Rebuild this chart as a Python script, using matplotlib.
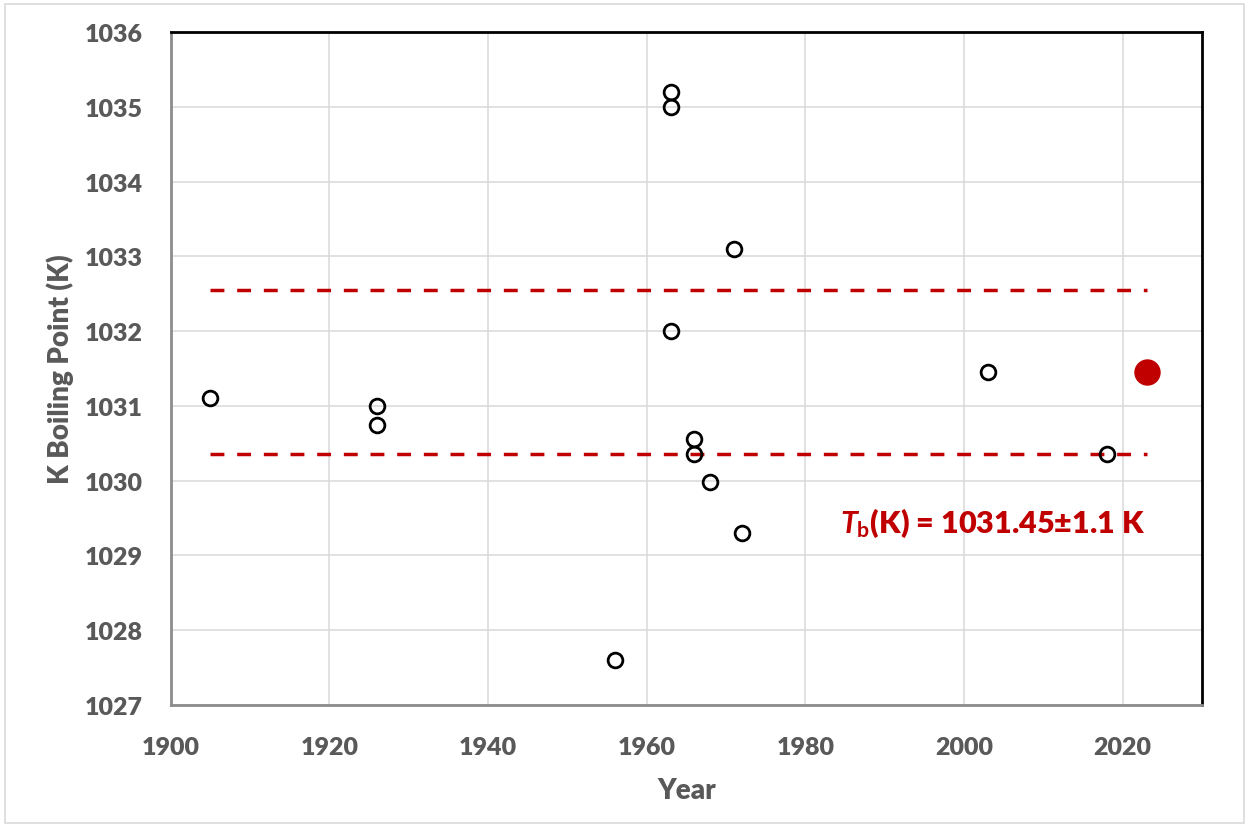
import matplotlib
matplotlib.use('Agg')
import matplotlib.pyplot as plt
from matplotlib.patches import Rectangle

# literature values of the K boiling point
years = [1905, 1926, 1926, 1956, 1963, 1963, 1963, 1966, 1966, 1968, 1971, 1972, 2003, 2018]
tb_vals = [1031.1, 1031.0, 1030.74, 1027.6, 1035.2, 1035.0, 1032.0, 1030.56, 1030.35,
           1029.98, 1033.1, 1029.3, 1031.45, 1030.35]

# recommended value and its band
rec_year = 2023
rec_tb = 1031.45
rec_err = 1.1
band_years = [1905, 2023]

xticks = [1900, 1920, 1940, 1960, 1980, 2000, 2020]
yticks = [1027, 1028, 1029, 1030, 1031, 1032, 1033, 1034, 1035, 1036]

gray = '#595959'
red = '#C00000'

plt.rcParams['font.family'] = ['Lato', 'DejaVu Sans']
plt.rcParams['mathtext.fontset'] = 'custom'
plt.rcParams['mathtext.it'] = 'Lato:bold:italic'
plt.rcParams['mathtext.rm'] = 'Lato:bold'
plt.rcParams['mathtext.bf'] = 'Lato:bold'
plt.rcParams['lines.scale_dashes'] = False

fig = plt.figure(figsize=(12.49, 8.29), dpi=100)
ax = fig.add_axes([0.1367, 0.1484, 0.9624 - 0.1367, 0.9602 - 0.1484])

# light outer border of the chart area
fig.patches.append(Rectangle((5 / 1249, 5 / 829), 1 - 10 / 1249, 1 - 10 / 829,
                             transform=fig.transFigure, fill=False,
                             edgecolor='#d9d9d9', lw=1.2))

ax.grid(True, color='#d9d9d9', lw=1.1)
ax.set_axisbelow(True)

for y in (rec_tb - rec_err, rec_tb + rec_err):
    ax.plot(band_years, [y, y], color=red, lw=2.5, dashes=(10, 9.2), zorder=2)

ax.plot(years, tb_vals, 'o', ms=10.6, mfc='none', mec='black', mew=2, zorder=3)
ax.plot([rec_year], [rec_tb], 'o', ms=18, color=red, zorder=3)

ax.text(1984.4, 1029.32, r'$\mathit{T}_{\mathrm{b}}$(K) = 1031.45±1.1 K',
        color=red, fontsize=22, fontweight='heavy', ha='left', va='baseline')

ax.set_xlim(1900, 2030)
ax.set_ylim(1027, 1036)
ax.set_xticks(xticks)
ax.set_yticks(yticks)
ax.tick_params(length=0, labelsize=18, labelcolor=gray)
ax.tick_params(axis='x', pad=22)
ax.tick_params(axis='y', pad=20)
for lab in ax.get_xticklabels() + ax.get_yticklabels():
    lab.set_fontweight('heavy')

for side in ('left', 'bottom'):
    ax.spines[side].set_color('#8c8c8c')
    ax.spines[side].set_linewidth(2)
for side in ('top', 'right'):
    ax.spines[side].set_color('black')
    ax.spines[side].set_linewidth(2)

ax.set_xlabel('Year', fontsize=20, fontweight='heavy', color=gray, labelpad=14)
ax.set_ylabel('K Boiling Point (K)', fontsize=20, fontweight='heavy', color=gray, labelpad=8)

fig.savefig('out.png', dpi=100)
